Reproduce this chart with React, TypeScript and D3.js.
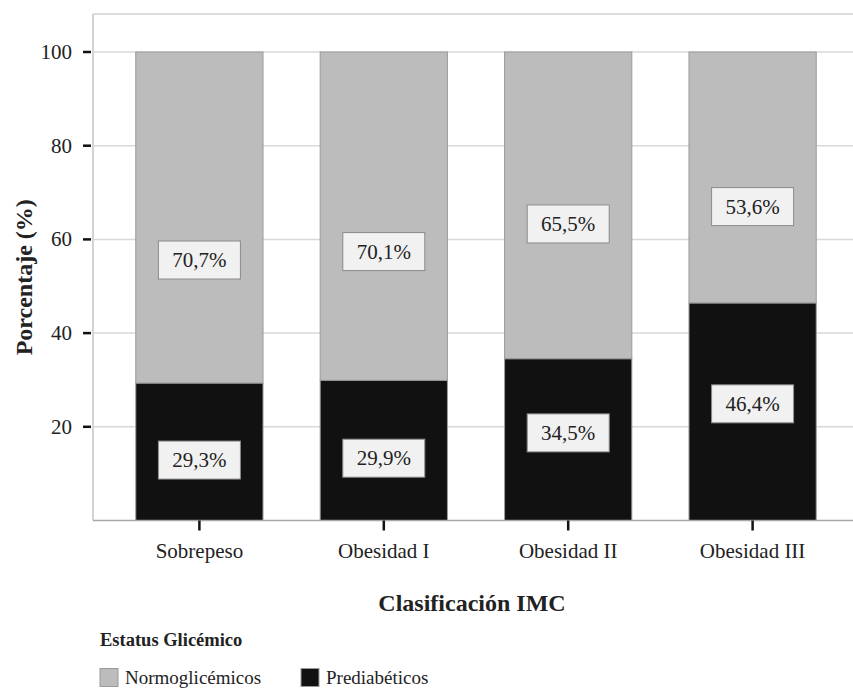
import React from "react";
import * as d3 from "d3";

// Categories and series (percent of each BMI class)
const categories = ["Sobrepeso", "Obesidad I", "Obesidad II", "Obesidad III"];
const prediabeticos = [29.3, 29.9, 34.5, 46.4];
const normoglicemicos = [70.7, 70.1, 65.5, 53.6];
const yTicks = [20, 40, 60, 80, 100];
const seriesNames = ["Normoglicémicos", "Prediabéticos"];

// Where each value box sits, in percent units on the y axis
const upperLabelAt = [55.6, 57.4, 63.3, 67.0];
const lowerLabelAt = [12.9, 13.3, 18.7, 24.9];

const W = 853;
const H = 689;
const FONT = "Liberation Serif, Tinos, Times New Roman, DejaVu Serif, serif";

const plotLeft = 93;
const plotRight = 859;
const plotTop = 14;

const GRAY = "#bcbcbc";
const BLACK = "#111111";

const fmt = (v: number) => v.toFixed(1).replace(".", ",") + "%";

export default function App() {
  const x = d3
    .scaleBand<string>()
    .domain(categories)
    .range([plotLeft, plotRight])
    .paddingInner(0.31)
    .paddingOuter(0.232);
  const y = d3.scaleLinear().domain([0, 100]).range([520.5, 52]);
  const plotBottom = y(0);

  const bw = x.bandwidth();
  const boxW = 82;
  const boxH = 38;

  const valueBox = (cx: number, cy: number, v: number, key: string) => (
    <g key={key}>
      <rect
        x={cx - boxW / 2}
        y={cy - boxH / 2}
        width={boxW}
        height={boxH}
        fill="#f1f1f1"
        stroke="#8a8a8a"
        strokeWidth={1}
      />
      <text
        x={cx}
        y={cy + 7}
        textAnchor="middle"
        fontSize={21}
        fill="#222"
      >
        {fmt(v)}
      </text>
    </g>
  );

  return (
    <svg
      width={W}
      height={H}
      style={{ position: "absolute", left: 0, top: 0, background: "#fff", fontFamily: FONT }}
    >
      {/* plot frame */}
      <line x1={plotLeft} x2={plotRight} y1={plotTop} y2={plotTop} stroke="#d2d2d2" strokeWidth={1.5} />
      <line x1={plotLeft} x2={plotLeft} y1={plotTop} y2={plotBottom} stroke="#c4c4c4" strokeWidth={1.5} />

      {/* gridlines */}
      {yTicks.map((t) => (
        <line
          key={"g" + t}
          x1={plotLeft}
          x2={plotRight}
          y1={y(t)}
          y2={y(t)}
          stroke="#d8d8d8"
          strokeWidth={1.5}
        />
      ))}

      {/* stacked bars */}
      {categories.map((c, i) => {
        const x0 = x(c)!;
        const p = prediabeticos[i];
        const n = normoglicemicos[i];
        return (
          <g key={c}>
            <rect
              x={x0}
              y={y(p + n)}
              width={bw}
              height={y(p) - y(p + n)}
              fill={GRAY}
              stroke="#9a9a9a"
              strokeWidth={1}
            />
            <rect
              x={x0}
              y={y(p)}
              width={bw}
              height={y(0) - y(p)}
              fill={BLACK}
              stroke="#9a9a9a"
              strokeWidth={1}
            />
          </g>
        );
      })}

      {/* value boxes */}
      {categories.map((c, i) => {
        const cx = x(c)! + bw / 2;
        return (
          <g key={"lb" + c}>
            {valueBox(cx, y(upperLabelAt[i]), normoglicemicos[i], "u")}
            {valueBox(cx, y(lowerLabelAt[i]), prediabeticos[i], "l")}
          </g>
        );
      })}

      {/* x axis line */}
      <line x1={plotLeft} x2={plotRight} y1={plotBottom} y2={plotBottom} stroke="#a8a8a8" strokeWidth={1.5} />

      {/* y ticks and labels */}
      {yTicks.map((t) => (
        <g key={"t" + t}>
          <line x1={83} x2={91} y1={y(t)} y2={y(t)} stroke="#111" strokeWidth={2.5} />
          <text x={72} y={y(t) + 7} textAnchor="end" fontSize={21} fill="#222">
            {t}
          </text>
        </g>
      ))}

      {/* x ticks and labels */}
      {categories.map((c) => {
        const cx = x(c)! + bw / 2;
        return (
          <g key={"xt" + c}>
            <line x1={cx} x2={cx} y1={plotBottom} y2={plotBottom + 10} stroke="#111" strokeWidth={2.5} />
            <text x={cx} y={558} textAnchor="middle" fontSize={21} fill="#222">
              {c}
            </text>
          </g>
        );
      })}

      {/* axis titles */}
      <text x={472} y={611} textAnchor="middle" fontSize={24} fontWeight="bold" fill="#222">
        Clasificación IMC
      </text>
      <text
        transform={`translate(32, ${(plotBottom + plotTop) / 2 + 10}) rotate(-90)`}
        textAnchor="middle"
        fontSize={24}
        fontWeight="bold"
        fill="#222"
      >
        Porcentaje (%)
      </text>

      {/* legend */}
      <text x={100} y={646} fontSize={18.5} fontWeight="bold" fill="#222">
        Estatus Glicémico
      </text>
      {seriesNames.map((s, i) => {
        const lx = i === 0 ? 100 : 301;
        return (
          <g key={s}>
            <rect
              x={lx}
              y={668.5}
              width={18}
              height={18}
              fill={i === 0 ? GRAY : BLACK}
              stroke="#9a9a9a"
              strokeWidth={1}
            />
            <text x={lx + 25} y={684} fontSize={19} fill="#222">
              {s}
            </text>
          </g>
        );
      })}
    </svg>
  );
}
